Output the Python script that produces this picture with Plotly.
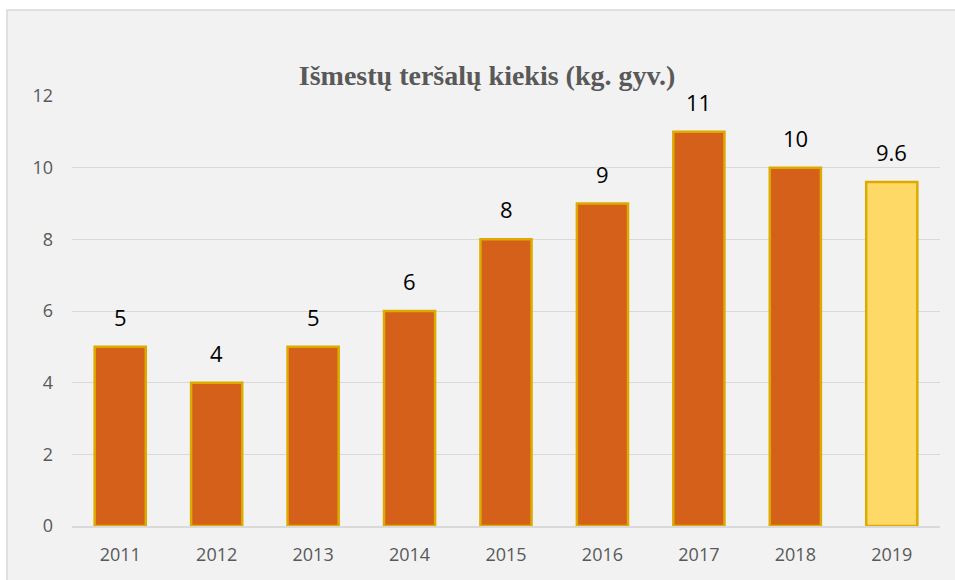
import plotly.graph_objects as go

years = ["2011", "2012", "2013", "2014", "2015", "2016", "2017", "2018", "2019"]
values = [5, 4, 5, 6, 8, 9, 11, 10, 9.6]
labels = ["5", "4", "5", "6", "8", "9", "11", "10", "9.6"]
title_text = "Išmestų teršalų kiekis (kg. gyv.)"
y_ticks = [0, 2, 4, 6, 8, 10, 12]

ORANGE = "#D4601A"
YELLOW = "#FFD966"
GOLD = "#DDAA00"
bar_colors = [ORANGE] * (len(years) - 1) + [YELLOW]

W, H = 955, 580
L, R, T, B = 72, 15, 96, 54
pw, ph = W - L - R, H - T - B

fig = go.Figure()
fig.add_trace(go.Bar(
    x=years, y=values,
    marker=dict(color=bar_colors, line=dict(color=GOLD, width=2.5)),
    width=0.53,
    hoverinfo="x+y",
))

# data labels (category axis: annotations use the category index)
for i, (v, lab) in enumerate(zip(values, labels)):
    fig.add_annotation(x=i, y=v, xref="x", yref="y", text=lab, showarrow=False,
                       yanchor="bottom", yshift=13,
                       font=dict(family="Open Sans", size=22, color="#000000"))

# chart area background with border
fig.add_shape(type="rect", xref="paper", yref="paper",
              x0=(7 - L) / pw, x1=(W + 5 - L) / pw,
              y0=-(B + 5) / ph, y1=(H - 10 - B) / ph,
              fillcolor="#F2F2F2", line=dict(color="#D9D9D9", width=1.5),
              layer="below")

fig.update_layout(
    width=W, height=H,
    margin=dict(l=L, r=R, t=T, b=B, autoexpand=False),
    paper_bgcolor="#FFFFFF",
    plot_bgcolor="rgba(0,0,0,0)",
    showlegend=False,
    title=dict(text="<b>" + title_text + "</b>", xref="container", x=0.51,
               y=1 - 75 / H, yanchor="middle", xanchor="center",
               font=dict(family="Liberation Serif", size=28, color="#595959")),
    xaxis=dict(type="category", showgrid=False, showline=True, linecolor="#D9D9D9",
               linewidth=1.5, ticks="",
               tickfont=dict(family="Open Sans", size=18, color="#595959"),
               ticklabelstandoff=12),
    yaxis=dict(range=[0, 12], tickvals=y_ticks, showgrid=True, gridcolor="#D9D9D9",
               gridwidth=1, zeroline=False, showline=False, ticks="",
               tickfont=dict(family="Open Sans", size=18, color="#595959"),
               ticklabelstandoff=18),
    bargap=0.46,
)

fig.write_html("out.html", config={"displayModeBar": False},
               post_script="document.body.style.margin='0';")
